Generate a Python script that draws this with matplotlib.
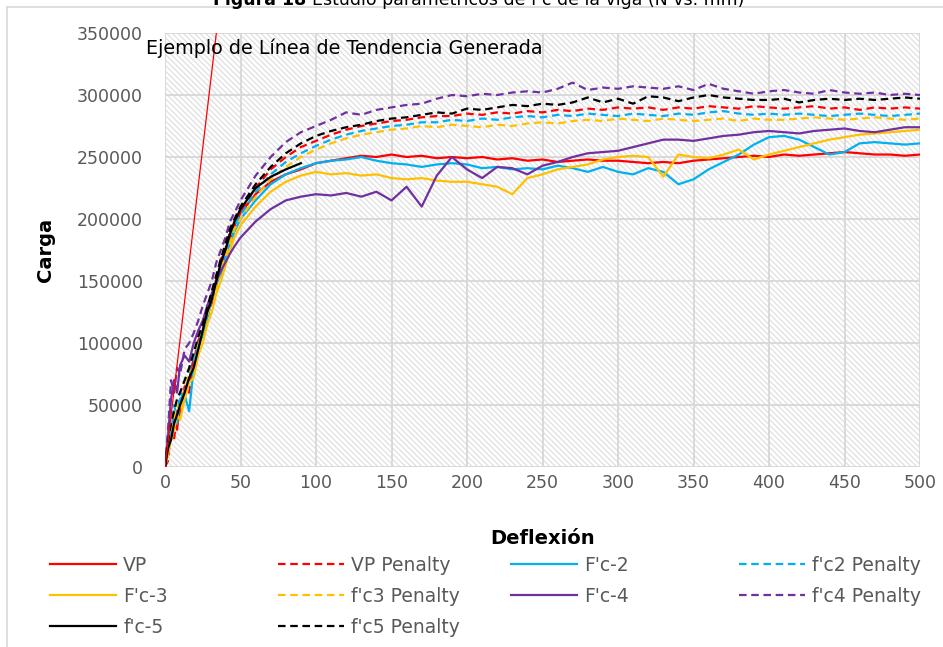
import matplotlib
matplotlib.use("Agg")
import matplotlib.pyplot as plt
from matplotlib.patches import Rectangle
from matplotlib.lines import Line2D

plt.rcParams.update({
    'font.family': ['DejaVu Sans'],
    'hatch.linewidth': 0.9,
})

# deflexion (mm): noisy rise, transition, plateau
X_RISE = [0, 2, 4, 6, 8, 10, 13, 16, 19, 22, 25, 28, 31, 34, 37, 40, 43, 46]
X_MID = [50, 60, 70, 80, 90]
X_TAIL = [100, 110, 120, 130, 140, 150, 160, 170, 180, 190,
          200, 210, 220, 230, 240, 250, 260, 270, 280, 290,
          300, 310, 320, 330, 340, 350, 360, 370, 380, 390,
          400, 410, 420, 430, 440, 450, 460, 470, 480, 490, 500]
DEFL = X_RISE + X_MID + X_TAIL
DEFL_SHORT = X_RISE + X_MID

# carga, in thousands
VP = [0, 12, 25, 38, 30, 52, 62, 70, 88, 95, 110, 125, 132, 152, 160, 176, 183, 195,
      205, 220, 230, 236, 240,
      245, 247, 249, 251, 250, 252, 250, 251, 249, 250, 249, 250, 248, 249, 247, 248,
      246, 247, 248, 247, 247, 246, 245, 246, 245, 247, 248, 249, 250, 251, 250, 252,
      251, 252, 253, 254, 253, 252, 252, 251, 252]
VP_PEN = [0, 5, 30, 22, 45, 40, 65, 60, 85, 102, 108, 130, 138, 145, 168, 172, 190, 192,
          207, 225, 240, 250, 258,
          263, 268, 272, 275, 277, 279, 280, 282, 283, 283, 285, 284, 286, 285, 287, 286,
          288, 287, 289, 288, 290, 289, 290, 288, 290, 289, 291, 290, 289, 291, 290, 289,
          290, 291, 289, 290, 288, 290, 289, 290, 289]
FC2 = [0, 15, 30, 45, 35, 55, 58, 45, 80, 100, 105, 120, 135, 148, 155, 170, 180, 190,
       200, 215, 228, 236, 241,
       245, 247, 248, 250, 247, 245, 244, 242, 244, 245, 244, 241, 242, 240, 241, 240,
       243, 241, 238, 242, 238, 236, 241, 238, 228, 232, 240, 246, 252, 260, 266, 267,
       264, 258, 252, 254, 261, 262, 261, 260, 261]
FC2_PEN = [0, 18, 28, 50, 40, 60, 55, 78, 88, 96, 115, 118, 140, 145, 162, 168, 185, 195,
           203, 222, 236, 246, 253,
           259, 264, 268, 271, 273, 275, 276, 278, 278, 280, 279, 281, 280, 282, 283, 282,
           284, 283, 285, 284, 283, 285, 284, 283, 285, 284, 286, 287, 285, 284, 285, 284,
           285, 284, 283, 284, 285, 284, 283, 284, 285]
FC3 = [0, 10, 22, 30, 42, 38, 55, 68, 72, 90, 100, 115, 125, 140, 150, 162, 175, 185,
       195, 210, 222, 230, 235,
       238, 236, 237, 235, 236, 233, 232, 233, 231, 230, 230, 228, 226, 220, 233, 236,
       240, 242, 244, 248, 250, 251, 250, 234, 252, 250, 249, 252, 256, 248, 252, 255,
       258, 261, 264, 266, 268, 269, 270, 271, 272]
FC3_PEN = [0, 14, 26, 40, 50, 45, 62, 75, 80, 98, 110, 122, 135, 145, 158, 170, 180, 192,
           200, 218, 232, 242, 250,
           256, 261, 265, 268, 270, 272, 273, 275, 274, 276, 275, 274, 276, 275, 277, 278,
           277, 279, 280, 279, 281, 280, 279, 281, 280, 279, 280, 281, 279, 281, 280, 280,
           281, 282, 281, 280, 281, 282, 281, 280, 281]
FC4 = [0, 25, 55, 70, 60, 82, 90, 85, 100, 110, 118, 130, 140, 150, 158, 165, 172, 178,
       185, 198, 208, 215, 218,
       220, 219, 221, 218, 222, 215, 226, 210, 235, 250, 240, 233, 242, 241, 236, 243,
       246, 250, 253, 254, 255, 258, 261, 264, 264, 263, 265, 267, 268, 270, 271, 270,
       269, 271, 272, 273, 271, 270, 272, 274, 274]
FC4_PEN = [0, 30, 70, 60, 80, 75, 95, 100, 108, 118, 130, 140, 150, 165, 175, 185, 198, 205,
           215, 235, 250, 262, 270,
           275, 280, 286, 284, 288, 290, 292, 293, 297, 300, 299, 301, 300, 302, 303, 302,
           305, 310, 304, 306, 305, 307, 306, 305, 307, 304, 309, 305, 303, 301, 303, 304,
           302, 301, 304, 302, 301, 302, 300, 301, 300]
FC5 = [0, 15, 22, 35, 42, 50, 60, 72, 80, 95, 110, 125, 135, 150, 165, 175, 188, 198,
       208, 225, 234, 240, 245]
FC5_PEN = [0, 20, 35, 45, 55, 60, 70, 80, 92, 105, 115, 128, 142, 155, 168, 180, 192, 200,
           210, 228, 242, 253, 261,
           267, 271, 274, 276, 279, 281, 282, 284, 286, 285, 289, 288, 290, 292, 291, 293,
           292, 294, 298, 294, 297, 293, 299, 298, 295, 298, 300, 298, 297, 296, 296, 297,
           294, 296, 297, 296, 297, 296, 297, 298, 297]

# trend line example
TREND_X = [0, 34]
TREND_Y = [0, 350]

SERIES = [
    ("VP", DEFL, VP, "#FF0000", "-"),
    ("VP Penalty", DEFL, VP_PEN, "#FF0000", "--"),
    ("F'c-2", DEFL, FC2, "#00B0F0", "-"),
    ("f'c2 Penalty", DEFL, FC2_PEN, "#00B0F0", "--"),
    ("F'c-3", DEFL, FC3, "#FFC000", "-"),
    ("f'c3 Penalty", DEFL, FC3_PEN, "#FFC000", "--"),
    ("F'c-4", DEFL, FC4, "#7030A0", "-"),
    ("f'c4 Penalty", DEFL, FC4_PEN, "#7030A0", "--"),
    ("f'c-5", DEFL_SHORT, FC5, "#000000", "-"),
    ("f'c5 Penalty", DEFL, FC5_PEN, "#000000", "--"),
]
DASH = (0, (3.4, 2.1))

W, H = 943, 647
fig = plt.figure(figsize=(W / 100, H / 100), dpi=100)
ax = fig.add_axes([165 / W, 180 / H, 755 / W, 434 / H])

# hatched plot area
ax.add_patch(Rectangle((0, 0), 1, 1, transform=ax.transAxes, facecolor='none',
                       edgecolor='#e0e0e0', lw=0, hatch='\\' * 6, zorder=0.2))

handles = {}
for name, xs, ys, col, ls in SERIES:
    h, = ax.plot(xs, [v * 1000 for v in ys], color=col, lw=1.6,
                 linestyle=DASH if ls == "--" else "-", zorder=3)
    handles[name] = h

ax.plot(TREND_X, [v * 1000 for v in TREND_Y], color="#FF0000", lw=0.9, zorder=4)

ax.set_xlim(0, 500)
ax.set_ylim(0, 350000)
ax.set_xticks(range(0, 501, 50))
ax.set_yticks(range(0, 350001, 50000))
ax.set_yticklabels([str(v) for v in range(0, 350001, 50000)])
ax.set_axisbelow(True)
ax.grid(True, color='#d9d9d9', lw=1.4, zorder=0.5)
for s in ax.spines.values():
    s.set_visible(False)
ax.tick_params(length=0, labelsize=12.5, labelcolor='#595959')
ax.tick_params(axis='y', pad=16)
ax.tick_params(axis='x', pad=5)

fig.text(543 / W, 1 - 538 / H, "Deflexión", ha='center', va='center',
         fontsize=14, fontweight='bold')
fig.text(45 / W, 1 - 250 / H, "Carga", ha='center', va='center', rotation=90,
         fontsize=14, fontweight='bold')
fig.text(146 / W, 1 - 48 / H, "Ejemplo de Línea de Tendencia Generada",
         ha='left', va='center', fontsize=13.8, zorder=10)

# title cut at the top of the image
fig.text(312 / W, 1 - 5 / H, "Figura 18 ", ha='right', va='baseline',
         fontsize=12.5, fontweight='bold')
fig.text(312 / W, 1 - 5 / H, "Estudio paramétricos de f'c de la viga (N vs. mm)",
         ha='left', va='baseline', fontsize=12.5)

# chart border (left and top visible)
fig.add_artist(Line2D([7 / W, 7 / W], [0, 1 - 7 / H], color='#d9d9d9', lw=1.2))
fig.add_artist(Line2D([7 / W, 1], [1 - 7 / H, 1 - 7 / H], color='#d9d9d9', lw=1.2))

# legend, one block per column
COLUMNS = [
    (50, ["VP", "F'c-3", "f'c-5"]),
    (278, ["VP Penalty", "f'c3 Penalty", "f'c5 Penalty"]),
    (511, ["F'c-2", "F'c-4"]),
    (739, ["f'c2 Penalty", "f'c4 Penalty"]),
]
for x0, names in COLUMNS:
    fig.legend([handles[n] for n in names], names, loc='upper left',
               bbox_to_anchor=(x0 / W, 1 - 556 / H), frameon=False,
               borderpad=0, borderaxespad=0, handlelength=3.5,
               handletextpad=0.4, labelspacing=0.64, fontsize=13.5,
               labelcolor='#595959')

fig.savefig("out.png", dpi=100)
